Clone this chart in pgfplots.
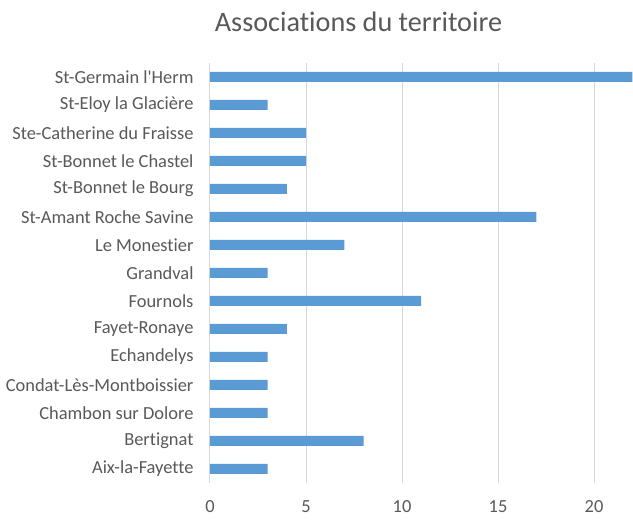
\documentclass[border=0pt]{standalone}
\usepackage{fontspec}
\setmainfont[Ligatures={NoCommon}]{Carlito}
\usepackage{pgfplots}
\pgfplotsset{compat=1.18}
\definecolor{barblue}{HTML}{5B9BD5}
\definecolor{txtgray}{HTML}{595959}
\definecolor{gridgray}{HTML}{D9D9D9}
\begin{document}
\begin{tikzpicture}[x=1bp,y=1bp]
\useasboundingbox[fill=white] (-210bp,-43bp) rectangle (423bp,483bp);
\begin{axis}[
  at={(0,0)}, anchor=south west,
  scale only axis,
  width=423bp, height=420bp,
  xbar, bar width=10bp,
  xmin=0, xmax=22.03,
  ymin=-0.5, ymax=14.5,
  clip=true,
  axis line style={draw=none},
  xtick={0,5,10,15,20},
  ytick={0,...,14},
  yticklabels={Aix-la-Fayette,Bertignat,Chambon sur Dolore,Condat-Lès-Montboissier,Echandelys,Fayet-Ronaye,Fournols,Grandval,Le Monestier,St-Amant Roche Savine,St-Bonnet le Bourg,St-Bonnet le Chastel,Ste-Catherine du Fraisse,St-Eloy la Glacière,St-Germain l\textquotesingle Herm},
  major tick length=0pt,
  xmajorgrids, grid style={gridgray, line width=1bp},
  /pgf/number format/assume math mode=true,
  tick label style={font=\fontsize{18.5}{22}\selectfont, text=txtgray},
  xticklabel style={yshift=-14bp},
  yticklabel style={xshift=-13bp},
]
\addplot[fill=barblue, draw=none] coordinates {
(3,0) (8,1) (3,2) (3,3) (3,4) (4,5) (11,6) (3,7) (7,8) (17,9) (4,10) (5,11) (5,12) (3,13) (22,14)
};
\end{axis}
\node[font=\fontsize{28.3}{32}\selectfont, text=txtgray, inner sep=0pt] at (148.5bp,461bp) {Associations du territoire};
\end{tikzpicture}
\end{document}
